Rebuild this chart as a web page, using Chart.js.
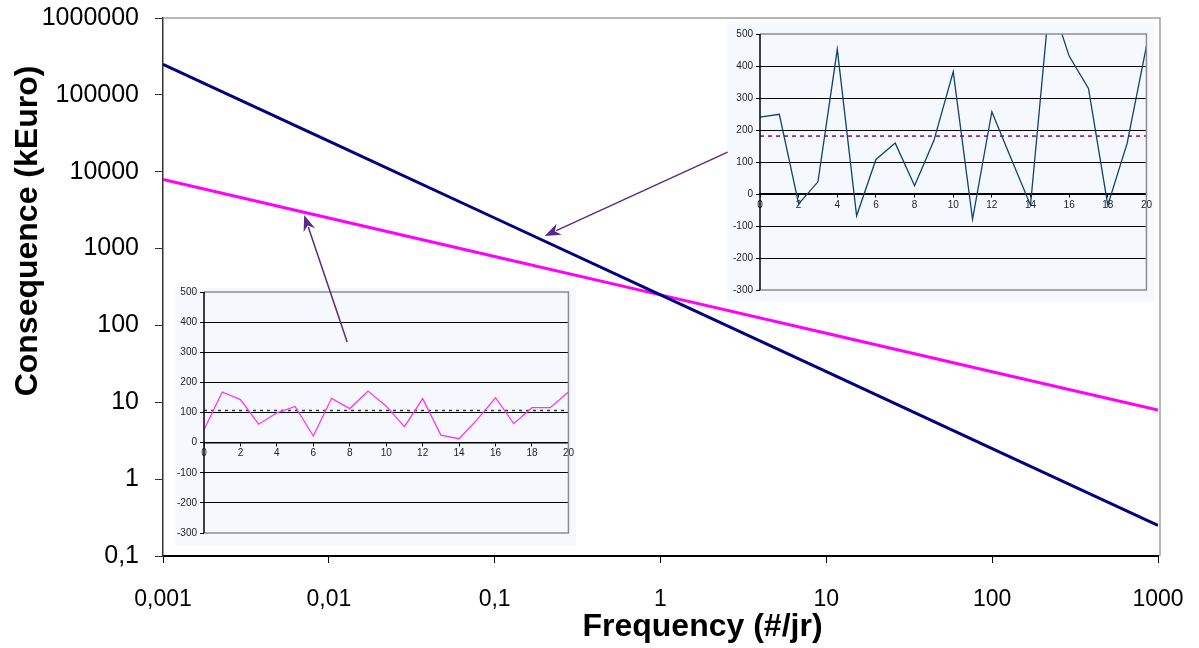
<!DOCTYPE html>
<html>
<head>
<meta charset="utf-8">
<script src="https://cdn.jsdelivr.net/npm/chart.js@4.4.1/dist/chart.umd.min.js"></script>
<style>
    html, body { margin: 0; padding: 0; background: #ffffff; }
    #wrap { position: relative; width: 1199px; height: 648px; }
    canvas { position: absolute; }
    #mainChart { left: 0; top: 0; pointer-events: none; }
    #insetRight { left: 727px; top: 21px; }
    #insetLeft { left: 175px; top: 282px; }
</style>
</head>
<body>
<div id="wrap">
    <canvas id="insetLeft" width="401" height="264"></canvas>
    <canvas id="insetRight" width="427" height="281"></canvas>
    <canvas id="mainChart" width="1199" height="648"></canvas>
</div>
<script>
// Hoofdgrafiek: frequentie tegen gevolg (log-log)
const frequency = [0.001, 0.01, 0.1, 1, 10, 100, 1000];
const consequenceNavy = [250000, 25000, 2500, 250, 25, 2.5, 0.25];
const consequenceMagenta = [7906, 2500, 790.6, 250, 79.06, 25, 7.906];
const xTicks = [0.001, 0.01, 0.1, 1, 10, 100, 1000];
const yTicks = [0.1, 1, 10, 100, 1000, 10000, 100000, 1000000];

// Inzetgrafieken
const insetX = [0, 1, 2, 3, 4, 5, 6, 7, 8, 9, 10, 11, 12, 13, 14, 15, 16, 17, 18, 19, 20];
const insetRightValues = [240, 249, -31, 38, 452, -68, 108, 159, 26, 167, 382, -79, 257, 110, -35, 615, 431, 330, -35, 158, 462];
const insetRightMean = 181;
const insetLeftValues = [43, 168, 143, 61, 99, 120, 22, 147, 113, 171, 121, 53, 146, 25, 13, 77, 149, 63, 116, 116, 168];
const insetLeftMean = 107;
const insetYTicks = [-300, -200, -100, 0, 100, 200, 300, 400, 500];

// Pijlen (in datacoordinaten van de hoofdgrafiek): [staart, punt]
const arrows = [
    [{ x: 0.0129, y: 61 }, { x: 0.0071, y: 2735 }],
    [{ x: 2.54, y: 18000 }, { x: 0.2, y: 1460 }]
];

function commaFormat(v) {
    return String(v).replace('.', ',');
}

function drawArrow(ctx, x1, y1, x2, y2) {
    const angle = Math.atan2(y2 - y1, x2 - x1);
    const headLen = 16, headHalf = 6;
    ctx.save();
    ctx.strokeStyle = '#5b2a86';
    ctx.fillStyle = '#5b2a86';
    ctx.lineWidth = 1.5;
    ctx.beginPath();
    ctx.moveTo(x1, y1);
    ctx.lineTo(x2 - Math.cos(angle) * headLen * 0.8, y2 - Math.sin(angle) * headLen * 0.8);
    ctx.stroke();
    ctx.beginPath();
    ctx.moveTo(x2, y2);
    ctx.lineTo(x2 - Math.cos(angle) * headLen - Math.sin(angle) * headHalf,
               y2 - Math.sin(angle) * headLen + Math.cos(angle) * headHalf);
    ctx.lineTo(x2 - Math.cos(angle) * headLen * 0.7, y2 - Math.sin(angle) * headLen * 0.7);
    ctx.lineTo(x2 - Math.cos(angle) * headLen + Math.sin(angle) * headHalf,
               y2 - Math.sin(angle) * headLen - Math.cos(angle) * headHalf);
    ctx.closePath();
    ctx.fill();
    ctx.restore();
}

const mainExtras = {
    id: 'mainExtras',
    afterDraw(chart) {
        const ctx = chart.ctx;
        const area = chart.chartArea;
        const xs = chart.scales.x, ys = chart.scales.y;

        // grijze rand boven en rechts
        ctx.save();
        ctx.strokeStyle = '#a0a0a0';
        ctx.lineWidth = 1.5;
        ctx.beginPath();
        ctx.moveTo(area.left, area.top);
        ctx.lineTo(area.right + 2, area.top);
        ctx.lineTo(area.right + 2, area.bottom);
        ctx.stroke();
        ctx.restore();

        // pijlen
        arrows.forEach(a => {
            drawArrow(ctx, xs.getPixelForValue(a[0].x), ys.getPixelForValue(a[0].y),
                           xs.getPixelForValue(a[1].x), ys.getPixelForValue(a[1].y));
        });

        // astitels
        ctx.save();
        ctx.fillStyle = '#000';
        ctx.font = 'bold 32px "Liberation Sans", Arial, sans-serif';
        ctx.textAlign = 'center';
        ctx.textBaseline = 'middle';
        ctx.fillText('Frequency (#/jr)', (area.left + area.right) / 2 + 42, 627);
        ctx.translate(28, 231);
        ctx.rotate(-Math.PI / 2);
        ctx.fillText('Consequence (kEuro)', 0, 0);
        ctx.restore();
    }
};

new Chart(document.getElementById('mainChart').getContext('2d'), {
    type: 'line',
    data: {
        datasets: [{
            data: frequency.map((f, i) => ({ x: f, y: consequenceNavy[i] })),
            borderColor: '#000080',
            borderWidth: 3,
            pointRadius: 0,
            tension: 0
        }, {
            data: frequency.map((f, i) => ({ x: f, y: consequenceMagenta[i] })),
            borderColor: '#ff00ff',
            borderWidth: 3,
            pointRadius: 0,
            tension: 0
        }]
    },
    options: {
        responsive: false,
        animation: false,
        layout: { padding: { top: 18, right: 41, left: 0, bottom: 0 } },
        plugins: { legend: { display: false }, tooltip: { enabled: false } },
        scales: {
            x: {
                type: 'logarithmic',
                min: 0.001,
                max: 1000,
                afterBuildTicks: scale => { scale.ticks = xTicks.map(v => ({ value: v })); },
                afterFit: scale => {
                    scale.height = 92;
                    scale.paddingLeft = 0;
                    scale.paddingRight = 0;
                },
                ticks: {
                    callback: v => commaFormat(v),
                    color: '#000',
                    font: { family: '"Liberation Sans", Arial, sans-serif', size: 23 },
                    padding: 23,
                    maxRotation: 0
                },
                grid: { drawOnChartArea: false, drawTicks: true, tickLength: 7, color: '#000' },
                border: { color: '#000', width: 2 }
            },
            y: {
                type: 'logarithmic',
                min: 0.1,
                max: 1000000,
                afterBuildTicks: scale => { scale.ticks = yTicks.map(v => ({ value: v })); },
                afterFit: scale => {
                    scale.width = 163;
                    scale.paddingTop = 0;
                    scale.paddingBottom = 0;
                },
                ticks: {
                    callback: v => commaFormat(v),
                    color: '#000',
                    font: { family: '"Liberation Sans", Arial, sans-serif', size: 25 },
                    padding: 16
                },
                grid: { drawOnChartArea: false, drawTicks: true, tickLength: 8, color: '#333' },
                border: { color: '#333', width: 1.5 }
            }
        }
    },
    plugins: [mainExtras]
});

function insetFrame(bg, bgTop) {
    return {
        id: 'insetFrame',
        beforeDraw(chart) {
            const ctx = chart.ctx;
            ctx.save();
            ctx.fillStyle = bg;
            ctx.fillRect(0, bgTop, chart.width, chart.height - bgTop);
            ctx.restore();
        },
        afterDraw(chart) {
            const ctx = chart.ctx;
            const area = chart.chartArea;
            ctx.save();
            ctx.strokeStyle = '#8c8c8c';
            ctx.lineWidth = 1.5;
            ctx.beginPath();
            ctx.moveTo(area.left, area.top);
            ctx.lineTo(area.right, area.top);
            ctx.lineTo(area.right, area.bottom);
            ctx.lineTo(area.left, area.bottom);
            ctx.stroke();
            ctx.strokeStyle = '#000';
            ctx.beginPath();
            ctx.moveTo(area.left, area.top);
            ctx.lineTo(area.left, area.bottom);
            ctx.stroke();
            ctx.restore();
        }
    };
}

function makeInset(id, values, mean, lineColor, meanColor, meanDash, pad, bgTop) {
    new Chart(document.getElementById(id).getContext('2d'), {
        type: 'line',
        data: {
            datasets: [{
                data: insetX.map((x, i) => ({ x: x, y: values[i] })),
                borderColor: lineColor,
                borderWidth: 1.3,
                pointRadius: 0,
                tension: 0
            }, {
                data: [{ x: insetX[0], y: mean }, { x: insetX[insetX.length - 1], y: mean }],
                borderColor: meanColor,
                borderWidth: 1.5,
                borderDash: meanDash,
                pointRadius: 0
            }]
        },
        options: {
            responsive: false,
            animation: false,
            layout: { padding: pad },
            plugins: { legend: { display: false }, tooltip: { enabled: false } },
            scales: {
                x: {
                    type: 'linear',
                    position: { y: 0 },
                    min: 0,
                    max: 20,
                    ticks: {
                        stepSize: 2,
                        color: '#222',
                        font: { family: '"Liberation Sans", Arial, sans-serif', size: 10 },
                        padding: 2,
                        maxRotation: 0
                    },
                    grid: { drawOnChartArea: false, tickLength: 3, color: '#000' },
                    border: { color: '#000', width: 1.5 }
                },
                y: {
                    min: -300,
                    max: 500,
                    afterBuildTicks: scale => { scale.ticks = insetYTicks.map(v => ({ value: v })); },
                    afterFit: scale => {
                        scale.width = pad.axisWidth;
                        scale.paddingTop = 0;
                        scale.paddingBottom = 0;
                    },
                    ticks: {
                        color: '#222',
                        font: { family: '"Liberation Sans", Arial, sans-serif', size: 10 },
                        padding: 3
                    },
                    grid: {
                        color: ctx => (ctx.tick && (ctx.tick.value === 500 || ctx.tick.value === -300)) ? 'rgba(0,0,0,0)' : '#000',
                        tickColor: '#000',
                        tickLength: 4,
                        lineWidth: 1
                    },
                    border: { display: false }
                }
            }
        },
        plugins: [insetFrame('#f5f9fe', bgTop)]
    });
}

makeInset('insetRight', insetRightValues, insetRightMean, '#0f3f73', '#8b008b', [4, 4],
    { top: 13, right: 3, bottom: 12, left: 0, axisWidth: 33 }, 0);
makeInset('insetLeft', insetLeftValues, insetLeftMean, '#ff33ff', '#333333', [3, 4],
    { top: 10, right: 2, bottom: 13, left: 0, axisWidth: 29 }, 6);
</script>
</body>
</html>
